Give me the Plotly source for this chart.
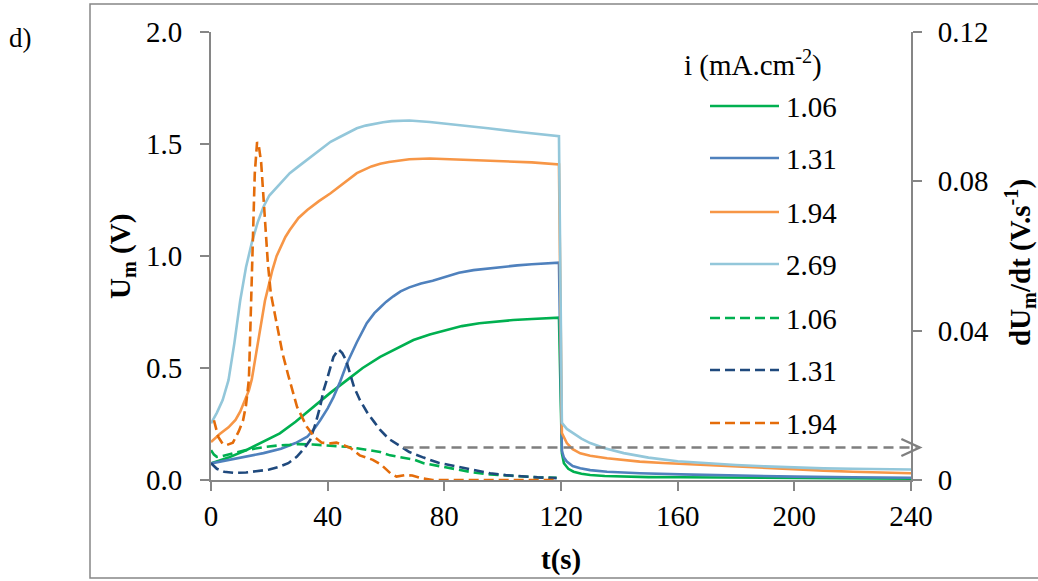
import plotly.graph_objects as go

# ---- membrane potential U_m (V), solid lines, left axis ----
t_106 = [0, 6, 12.2, 18, 23.6, 29, 35, 41, 46.6, 52, 58, 64, 69.4, 75, 80.8, 86, 92, 98, 103.6, 110, 119.3,
         120.3, 121, 122.5, 124.3, 127, 130, 135, 141, 150, 161, 180, 200, 220, 240]
u_106 = [0.074, 0.10, 0.134, 0.17, 0.208, 0.26, 0.327, 0.39, 0.446, 0.50, 0.55, 0.59, 0.625, 0.65, 0.67, 0.687,
         0.70, 0.708, 0.714, 0.719, 0.725,
         0.12, 0.075, 0.05, 0.037, 0.028, 0.022, 0.018, 0.015, 0.013, 0.012, 0.010, 0.008, 0.007, 0.006]

t_131 = [0, 6, 12, 18, 24, 29, 33, 35.5, 37.5, 40, 42, 44.3, 46.6, 50, 53.4, 56, 58, 60, 62.5, 65, 68, 72, 76,
         80, 85, 90, 95, 100, 105, 110, 119.3,
         120.3, 121, 122, 124, 126.6, 130, 135.8, 147, 161, 180, 200, 220, 240]
u_131 = [0.074, 0.09, 0.104, 0.12, 0.14, 0.165, 0.193, 0.23, 0.268, 0.32, 0.37, 0.44, 0.52, 0.615, 0.70, 0.745,
         0.77, 0.795, 0.82, 0.842, 0.86, 0.877, 0.89, 0.905, 0.925, 0.937, 0.945, 0.952, 0.958, 0.963, 0.970,
         0.13, 0.10, 0.082, 0.062, 0.052, 0.044, 0.037, 0.030, 0.025, 0.019, 0.015, 0.012, 0.010]

t_194 = [0, 3, 6, 8.4, 10, 11.5, 13, 14, 15, 16, 17, 18.5, 20, 21, 22.5, 24, 25.5, 27, 30, 33, 37, 41, 45, 50, 55,
         58, 61, 65, 68, 75, 85, 95, 105, 110, 119.3,
         120.3, 122, 124, 126.6, 130, 135.8, 141, 147, 155, 161, 170, 180, 190, 200, 210, 220, 230, 240]
u_194 = [0.17, 0.205, 0.235, 0.268, 0.305, 0.35, 0.40, 0.45, 0.53, 0.61, 0.70, 0.80, 0.88, 0.935, 1.0, 1.045,
         1.085, 1.116, 1.17, 1.205, 1.245, 1.28, 1.32, 1.37, 1.40, 1.412, 1.42, 1.428, 1.432, 1.435, 1.43, 1.425,
         1.42, 1.418, 1.409,
         0.21, 0.165, 0.138, 0.119, 0.108, 0.097, 0.089, 0.082, 0.076, 0.072, 0.067, 0.060, 0.054, 0.047, 0.042,
         0.037, 0.033, 0.030]

t_269 = [0, 2, 4, 6, 8, 10, 12, 14, 16, 18, 20, 22, 24, 27, 30, 33, 36, 38.6, 41, 44, 47, 50, 53, 56, 59, 62,
         65, 68, 75, 85, 95, 105, 110, 119.3,
         120.3, 122, 124.3, 127, 130, 135, 141.5, 150, 160, 170, 180, 190, 200, 210, 220, 230, 240]
u_269 = [0.253, 0.30, 0.357, 0.446, 0.61, 0.80, 0.95, 1.06, 1.15, 1.22, 1.27, 1.30, 1.33, 1.37, 1.40, 1.43, 1.46,
         1.49, 1.51, 1.53, 1.55, 1.57, 1.582, 1.59, 1.597, 1.602, 1.604, 1.605, 1.598, 1.585, 1.57, 1.555, 1.548,
         1.535,
         0.255, 0.228, 0.208, 0.185, 0.165, 0.142, 0.120, 0.100, 0.084, 0.075, 0.067, 0.061, 0.056, 0.052, 0.050,
         0.048, 0.047]

# ---- derivative dU_m/dt (V/s), dashed lines, right axis ----
td_106 = [0, 1, 2, 4, 8, 12, 18, 23.6, 27, 30, 35, 40, 46.5, 50, 54, 58, 61.4, 64, 69.4, 72.9, 78, 84.3, 90,
          95.7, 101, 107, 112, 118.5]
d_106 = [0.008, 0.0068, 0.0062, 0.0064, 0.0072, 0.008, 0.0088, 0.0093, 0.0094, 0.0096, 0.0095, 0.0093, 0.0089,
         0.0085, 0.0081, 0.0075, 0.0066, 0.0062, 0.0055, 0.0045, 0.0037, 0.0027, 0.0020, 0.0015, 0.0012, 0.0009,
         0.0007, 0.0006]

td_131 = [0, 2, 4.5, 8, 12, 16, 20, 23.6, 26.5, 29.4, 32, 34, 35.8, 37.4, 38.6, 39.7, 41, 42, 43.7, 45, 46.3,
          47.5, 49, 51, 53.7, 56, 58, 61, 64.8, 68, 72.9, 78, 84.3, 90, 95.7, 101, 107, 112, 118.5]
d_131 = [0.0045, 0.003, 0.0022, 0.0019, 0.002, 0.0023, 0.0028, 0.0036, 0.0045, 0.0062, 0.0085, 0.0107, 0.015,
         0.0196, 0.024, 0.0268, 0.030, 0.033, 0.0350, 0.0340, 0.0321, 0.029, 0.025, 0.0215, 0.0179, 0.0155,
         0.0134, 0.011, 0.0092, 0.0075, 0.0060, 0.0046, 0.0036, 0.0026, 0.0018, 0.0013, 0.0009, 0.0007, 0.0005]

td_194 = [1, 2.5, 4, 5.5, 7.5, 9.5, 11, 12, 13, 13.6, 14.2, 15, 15.8, 16.4, 17.2, 18.3, 19.5, 20.5, 22.5, 24.5,
          26.5, 29.5, 32.8, 35.5, 38, 41, 43, 45, 48, 51, 55.5, 58.5, 61.5, 63.6, 66.5, 69, 72, 76, 90, 105, 119]
d_194 = [0.016, 0.0115, 0.0097, 0.0094, 0.010, 0.013, 0.016, 0.020, 0.027, 0.045, 0.063, 0.082, 0.0905, 0.0895,
         0.085, 0.072, 0.058, 0.050, 0.042, 0.034, 0.028, 0.0196, 0.0143, 0.0115, 0.0100, 0.0098, 0.0100, 0.0095,
         0.0085, 0.0066, 0.0054, 0.0040, 0.0018, 0.0009, 0.0013, 0.0012, 0.0005, 0.0, 0.0, 0.0, 0.0]

# level at which the "read on right axis" arrow is drawn, and its extent (s)
arrow_level = 0.0087
arrow_t0, arrow_t1 = 66, 243

GREEN = "#00B050"
BLUE = "#4F81BD"
ORANGE = "#F79646"
LIGHTBLUE = "#93C7DA"
NAVY = "#1F497D"
DARKORANGE = "#E46C0A"
AXIS = "#868686"
FONT = "Liberation Serif"
FS = 29

solid = [("1.06", t_106, u_106, GREEN), ("1.31", t_131, u_131, BLUE),
         ("1.94", t_194, u_194, ORANGE), ("2.69", t_269, u_269, LIGHTBLUE)]
dashed = [("1.06", td_106, d_106, GREEN), ("1.31", td_131, d_131, NAVY),
          ("1.94", td_194, d_194, DARKORANGE)]

fig = go.Figure()
for name, t, u, c in solid:
    fig.add_trace(go.Scatter(x=t, y=u, mode="lines", name=name,
                             line=dict(color=c, width=2.6), showlegend=False))
for name, t, d, c in dashed:
    fig.add_trace(go.Scatter(x=t, y=d, mode="lines", name=name, yaxis="y2",
                             line=dict(color=c, width=2.6, dash="10px,5px"), showlegend=False))

W, H = 1038, 581
ML, MR, MT, MB = 211, 127, 32, 101
PW, PH = W - ML - MR, H - MT - MB


def px(x):
    return (x - ML) / PW


def py(y):
    return (H - MB - y) / PH


shapes = []
annotations = []

# outer frame
shapes.append(dict(type="rect", xref="paper", yref="paper", x0=px(90), x1=px(1045), y0=py(578), y1=py(4),
                   line=dict(color=AXIS, width=1.5), fillcolor="rgba(0,0,0,0)", layer="below"))

# legend drawn by hand: title, line samples and labels
annotations.append(dict(xref="paper", yref="paper", x=px(753), y=py(63), xanchor="center", yanchor="middle",
                        text="i (mA.cm<sup>-2</sup>)", showarrow=False, font=dict(family=FONT, size=FS, color="black")))
rows_y = [106, 158, 212, 264, 318, 370, 423]
entries = [(n, c, "solid") for n, _, _, c in solid] + [(n, c, "dash") for n, _, _, c in dashed]
for (name, c, style), yy in zip(entries, rows_y):
    shapes.append(dict(type="line", xref="paper", yref="paper", x0=px(710), x1=px(779), y0=py(yy), y1=py(yy),
                       line=dict(color=c, width=2.6, dash="solid" if style == "solid" else "10px,5px")))
    annotations.append(dict(xref="paper", yref="paper", x=px(784), y=py(yy + 1), xanchor="left", yanchor="middle",
                            text=name, showarrow=False, font=dict(family=FONT, size=FS, color="black")))

# dashed arrow pointing at the right-hand axis
ay = arrow_level / 0.12
shapes.append(dict(type="line", xref="paper", yref="paper", x0=arrow_t0 / 240, x1=(arrow_t1 - 1) / 240,
                   y0=ay, y1=ay, line=dict(color="#7F7F7F", width=2.4, dash="10px,6px")))
head_dx = 6.3 / 240
head_dy = 8.5 / PH
shapes.append(dict(type="path", xref="paper", yref="paper",
                   path=f"M {arrow_t1/240 - head_dx},{ay + head_dy} L {arrow_t1/240},{ay} L {arrow_t1/240 - head_dx},{ay - head_dy}",
                   line=dict(color="#7F7F7F", width=2.4)))

# axis titles and panel label
annotations.append(dict(xref="paper", yref="paper", x=px(122), y=py(257), xanchor="center", yanchor="middle",
                        text="<b>U<sub>m</sub> (V)</b>", textangle=-90, showarrow=False,
                        font=dict(family=FONT, size=FS, color="black")))
annotations.append(dict(xref="paper", yref="paper", x=px(1020), y=py(263), xanchor="center", yanchor="middle",
                        text="<b>dU<sub>m</sub>/dt (V.s<sup>-1</sup>)</b>", textangle=-90, showarrow=False,
                        font=dict(family=FONT, size=FS, color="black")))
annotations.append(dict(xref="paper", yref="paper", x=px(561), y=py(559), xanchor="center", yanchor="middle",
                        text="<b>t(s)</b>", showarrow=False, font=dict(family=FONT, size=FS, color="black")))
annotations.append(dict(xref="paper", yref="paper", x=px(7), y=py(38), xanchor="left", yanchor="middle",
                        text="d)", showarrow=False, font=dict(family=FONT, size=27, color="black")))

tickfont = dict(family=FONT, size=FS, color="black")
fig.update_layout(
    width=W, height=H,
    margin=dict(l=ML, r=MR, t=MT, b=MB, autoexpand=False),
    paper_bgcolor="white", plot_bgcolor="white",
    showlegend=False,
    font=dict(family=FONT, size=FS, color="black"),
    xaxis=dict(range=[0, 240], tickvals=[0, 40, 80, 120, 160, 200, 240], showgrid=False, zeroline=False,
               showline=True, linecolor=AXIS, linewidth=2, ticks="outside", ticklen=9, tickwidth=2,
               tickcolor=AXIS, tickfont=tickfont),
    yaxis=dict(range=[0, 2.0], tickvals=[0, 0.5, 1.0, 1.5, 2.0], tickformat=".1f", showgrid=False,
               zeroline=False, showline=True, linecolor=AXIS, linewidth=2, ticks="outside", ticklen=9,
               tickwidth=2, tickcolor=AXIS, tickfont=tickfont, ticklabelstandoff=12),
    yaxis2=dict(range=[0, 0.12], tickvals=[0, 0.04, 0.08, 0.12], ticktext=["0", "0.04", "0.08", "0.12"],
                overlaying="y", side="right", showgrid=False, zeroline=False, showline=True, linecolor=AXIS,
                linewidth=2, ticks="outside", ticklen=9, tickwidth=2, tickcolor=AXIS, tickfont=tickfont,
                ticklabelstandoff=10),
    shapes=shapes,
    annotations=annotations,
)

fig.write_html("out.html")
